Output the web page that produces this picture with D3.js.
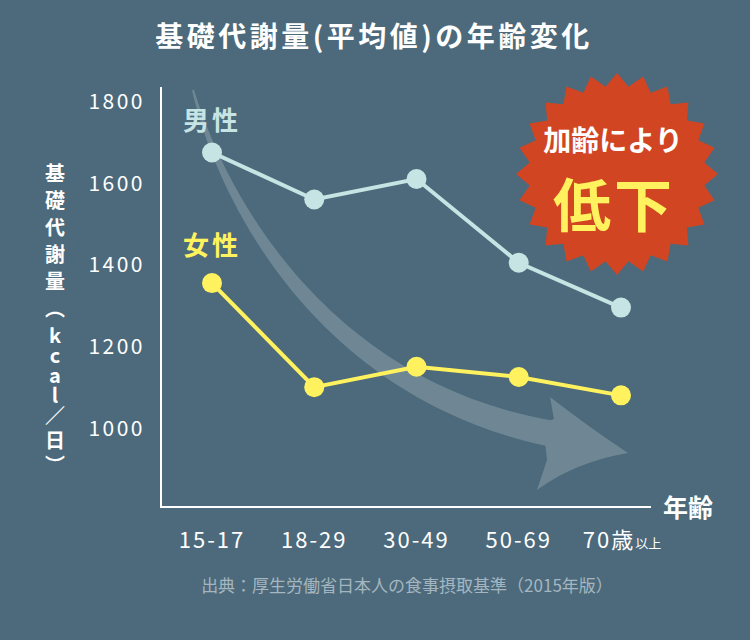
<!DOCTYPE html>
<html><head><meta charset="utf-8">
<script src="https://cdn.jsdelivr.net/npm/d3@7"></script>
<style>
html,body{margin:0;padding:0;background:#4c6a7b;}
svg{display:block;font-family:"Noto Sans CJK JP","Noto Sans",sans-serif;}
</style></head>
<body>
<svg id="c" width="750" height="640"></svg>
<script>
const categories = ["15-17", "18-29", "30-49", "50-69", "70"];
const maleValues = [1675, 1560, 1610, 1405, 1295];
const femaleValues = [1355, 1100, 1150, 1125, 1080];
const yTicks = [1000, 1200, 1400, 1600, 1800];
const title = "基礎代謝量(平均値)の年齢変化";
const yLabelParts = ["基礎代謝量（", "kcal", "／日）"];
const source = "出典：厚生労働省日本人の食事摂取基準（2015年版）";

const bg = "#4c6a7b", maleC = "#c7e4e4", femaleC = "#fff25e", red = "#d14522";
const svg = d3.select("#c");
svg.append("rect").attr("width",750).attr("height",640).attr("fill",bg);

const x = d3.scalePoint().domain(categories).range([212, 621]);
const y = d3.scaleLinear().domain([1000, 1800]).range([428, 101.5]);

// title
svg.append("text").attr("x",374).attr("y",47).attr("text-anchor","middle")
  .attr("fill","#fff").attr("font-size",28).attr("font-weight","bold").attr("letter-spacing",3.5).text(title);

// curved arrow (decorative)
(function(){
  const P0=[x(categories[0])-19,90], C1=[225,210], C2=[330,390], P3=[548,433];
  const bez=(t)=>{const u=1-t;return [u*u*u*P0[0]+3*u*u*t*C1[0]+3*u*t*t*C2[0]+t*t*t*P3[0],
    u*u*u*P0[1]+3*u*u*t*C1[1]+3*u*t*t*C2[1]+t*t*t*P3[1]];};
  const N=60, left=[], right=[];
  for(let i=0;i<=N;i++){
    const t=i/N, p=bez(t), q=bez(Math.min(1,t+0.001)), r=bez(Math.max(0,t-0.001));
    let dx=q[0]-r[0], dy=q[1]-r[1]; const L=Math.hypot(dx,dy); dx/=L; dy/=L;
    const w=(1+t*12);
    left.push([p[0]+dy*w, p[1]-dx*w]); right.push([p[0]-dy*w, p[1]+dx*w]);
  }
  const tip=[628,453], ub=[550,397], lb=[537,490];
  let d="M"+left.map(p=>p.join(",")).join("L");
  d+=`L${ub[0]+4},${ub[1]+22}L${ub[0]},${ub[1]}Q${590},${428} ${tip[0]},${tip[1]}Q${575},${462} ${lb[0]},${lb[1]}L${lb[0]+10},${lb[1]-30}`;
  d+="L"+right.slice().reverse().map(p=>p.join(",")).join("L")+"Z";
  svg.append("path").attr("d",d).attr("fill","#ffffff").attr("fill-opacity",0.2);
})();

// axes
const axisG = svg.append("g");
axisG.append("line").attr("x1",161).attr("x2",161).attr("y1",87).attr("y2",507)
  .attr("stroke","#fff").attr("stroke-width",2);
axisG.append("line").attr("x1",160).attr("x2",651).attr("y1",507).attr("y2",507)
  .attr("stroke","#fff").attr("stroke-width",2);

svg.selectAll(".yt").data(yTicks).join("text").attr("class","yt")
  .attr("x",145).attr("y",d=>y(d)).attr("dy","0.36em").attr("text-anchor","end")
  .attr("fill","#fff").attr("font-size",21).attr("font-weight",400).attr("letter-spacing",2.5)
  .text(d=>d);

svg.selectAll(".xt").data(categories).join("text").attr("class","xt")
  .attr("x",(d,i)=> i===4 ? x(d)+1 : x(d)).attr("y",548)
  .attr("text-anchor","middle").attr("fill","#fff").attr("font-size",22).attr("font-weight",400)
  .attr("letter-spacing",2)
  .each(function(d,i){
    const t=d3.select(this);
    if(i===4){
      t.append("tspan").text(d+"歳");
      t.append("tspan").attr("font-size",13).attr("letter-spacing",0).text("以上");
    } else t.text(d);
  });

svg.append("text").attr("x",663).attr("y",517).attr("fill","#fff")
  .attr("font-size",25).attr("font-weight","bold").text("年齢");

// y label vertical
const ylText = svg.append("text").attr("x",55).attr("y",163)
  .style("writing-mode","vertical-rl").style("text-orientation","upright")
  .attr("fill","#fff").attr("font-size",20).attr("font-weight","bold");
const ls = [7, 0, 5];
ylText.selectAll("tspan").data(yLabelParts).join("tspan")
  .attr("letter-spacing",(d,i)=>ls[i]).text(d=>d);

// badge
(function(){
  const cx=617, cy=174, R=101, r=88, n=24;
  const pts=d3.range(2*n).map(i=>{const a=i*Math.PI/n - Math.PI/2; const rr=i%2===0?R:r;
    return [cx+rr*Math.cos(a), cy+rr*Math.sin(a)];});
  svg.append("polygon").attr("points",pts.map(p=>p.join(",")).join(" ")).attr("fill",red);
  svg.append("text").attr("x",cx-4).attr("y",151).attr("text-anchor","middle").attr("fill","#fff")
    .attr("font-size",28).attr("font-weight","bold").text("加齢により");
  svg.append("text").attr("x",cx-3).attr("y",227).attr("text-anchor","middle").attr("fill",femaleC)
    .attr("font-size",58).attr("font-weight","bold").attr("letter-spacing",3).text("低下");
})();

// lines
const line = d3.line().x((d,i)=>x(categories[i])).y(d=>y(d));
function series(vals, color, label, ly){
  svg.append("path").attr("d",line(vals)).attr("fill","none").attr("stroke",color).attr("stroke-width",4);
  svg.selectAll(null).data(vals).join("circle").attr("cx",(d,i)=>x(categories[i])).attr("cy",d=>y(d))
    .attr("r",10).attr("fill",color);
  svg.append("text").attr("x",183).attr("y",ly).attr("fill",color).attr("font-size",26)
    .attr("font-weight","bold").attr("letter-spacing",3).text(label);
}
series(maleValues, maleC, "男性", 130);
series(femaleValues, femaleC, "女性", 255);

svg.append("text").attr("x",407).attr("y",592).attr("text-anchor","middle").attr("fill","#a5b6c0")
  .attr("font-size",17).text(source);
</script>
</body></html>
